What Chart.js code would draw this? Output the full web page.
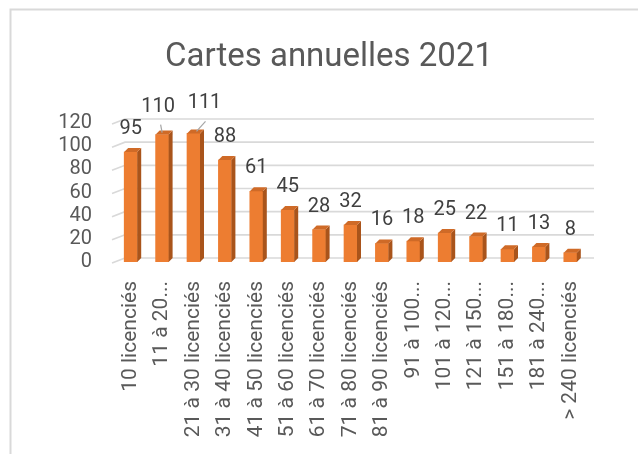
<!DOCTYPE html>
<html>
<head>
<meta charset="utf-8">
<script src="https://cdn.jsdelivr.net/npm/chart.js@4"></script>
<style>
  html, body { margin: 0; padding: 0; background: #ffffff; }
  #wrap { width: 638px; height: 454px; position: relative; }
</style>
</head>
<body>
<div id="wrap"><canvas id="c" width="638" height="454"></canvas></div>
<script>
const categories = ["10 licenciés", "11 à 20...", "21 à 30 licenciés", "31 à 40 licenciés", "41 à 50 licenciés",
  "51 à 60 licenciés", "61 à 70 licenciés", "71 à 80 licenciés", "81 à 90 licenciés", "91 à 100...",
  "101 à 120...", "121 à 150...", "151 à 180...", "181 à 240...", "> 240 licenciés"];
const values = [95, 110, 111, 88, 61, 45, 28, 32, 16, 18, 25, 22, 11, 13, 8];
const yTicks = [0, 20, 40, 60, 80, 100, 120];
const titleText = "Cartes annuelles 2021";

const FONT = "Roboto, 'Noto Sans', sans-serif";

// frame + background
const framePlugin = {
  id: 'frame',
  beforeDraw(chart) {
    const ctx = chart.ctx;
    ctx.save();
    ctx.fillStyle = '#ffffff';
    ctx.fillRect(0, 0, chart.width, chart.height);
    ctx.strokeStyle = '#d9d9d9';
    ctx.lineWidth = 2;
    ctx.beginPath();
    ctx.moveTo(10.5, chart.height);
    ctx.lineTo(10.5, 9.5);
    ctx.lineTo(chart.width, 9.5);
    ctx.stroke();
    ctx.restore();
  }
};

// chart title
const titlePlugin = {
  id: 'ctitle',
  afterDraw(chart) {
    const ctx = chart.ctx;
    ctx.save();
    ctx.font = '33px ' + FONT;
    ctx.fillStyle = '#595959';
    ctx.textAlign = 'center';
    ctx.textBaseline = 'alphabetic';
    ctx.fillText(titleText, 329, 66);
    ctx.restore();
  }
};

// 3D-like gridlines (back wall + floor edge)
const gridPlugin = {
  id: 'grid3d',
  beforeDatasetsDraw(chart) {
    const ctx = chart.ctx;
    const ys = chart.scales.y;
    const a = chart.chartArea;
    ctx.save();
    ctx.strokeStyle = '#d9d9d9';
    ctx.lineWidth = 1.6;
    yTicks.forEach(v => {
      const y = ys.getPixelForValue(v);
      ctx.beginPath();
      ctx.moveTo(a.left - 3, y + 1);
      ctx.lineTo(a.left + 10, y - 4);
      ctx.lineTo(a.right + 8, y - 4);
      ctx.stroke();
    });
    ctx.restore();
  }
};

// side and top faces of the bars
const bar3dPlugin = {
  id: 'bar3d',
  afterDatasetsDraw(chart) {
    const ctx = chart.ctx;
    const meta = chart.getDatasetMeta(0);
    const dx = 4, dy = 4;
    ctx.save();
    meta.data.forEach(el => {
      const p = el.getProps(['x', 'y', 'base', 'width'], true);
      const l = p.x - p.width / 2, r = p.x + p.width / 2;
      ctx.fillStyle = '#a9541b';
      ctx.beginPath();
      ctx.moveTo(r, p.y);
      ctx.lineTo(r + dx, p.y - dy);
      ctx.lineTo(r + dx, p.base - dy);
      ctx.lineTo(r, p.base);
      ctx.closePath();
      ctx.fill();
      ctx.fillStyle = '#cf6a27';
      ctx.beginPath();
      ctx.moveTo(l, p.y);
      ctx.lineTo(l + dx, p.y - dy);
      ctx.lineTo(r + dx, p.y - dy);
      ctx.lineTo(r, p.y);
      ctx.closePath();
      ctx.fill();
    });
    ctx.restore();
  }
};

// data labels
const labelOffsets = { 1: [-4, -5, true], 2: [11, -7, true] };
const dataLabelPlugin = {
  id: 'dlabels',
  afterDatasetsDraw(chart) {
    const ctx = chart.ctx;
    const meta = chart.getDatasetMeta(0);
    ctx.save();
    ctx.font = '20px ' + FONT;
    ctx.fillStyle = '#404040';
    ctx.textAlign = 'center';
    ctx.textBaseline = 'middle';
    meta.data.forEach((el, i) => {
      const p = el.getProps(['x', 'y'], true);
      const off = labelOffsets[i] || [0, 0, false];
      const lx = p.x + off[0], ly = p.y - 23 + off[1];
      ctx.fillText(String(values[i]), lx, ly);
      if (off[2]) {
        ctx.strokeStyle = '#a6a6a6';
        ctx.lineWidth = 1.2;
        ctx.beginPath();
        ctx.moveTo(lx + (off[0] < 0 ? 2.5 : 1), ly + 18);
        ctx.lineTo(p.x + (off[0] < 0 ? 0 : 3), p.y - 2);
        ctx.stroke();
      }
    });
    ctx.restore();
  }
};

new Chart(document.getElementById('c'), {
  type: 'bar',
  data: {
    labels: categories,
    datasets: [{
      data: values,
      backgroundColor: '#ed7d31',
      borderWidth: 0,
      barThickness: 13
    }]
  },
  options: {
    responsive: false,
    animation: false,
    devicePixelRatio: 1,
    layout: { padding: { left: 20, right: 52, top: 123, bottom: 0 } },
    plugins: {
      legend: { display: false },
      tooltip: { enabled: false },
      title: { display: false }
    },
    scales: {
      x: {
        grid: { display: false, drawTicks: false },
        border: { display: false },
        ticks: {
          color: '#595959',
          font: { family: FONT, size: 21 },
          minRotation: 90,
          maxRotation: 90,
          autoSkip: false,
          padding: 19
        },
        afterFit(scale) { scale.height = 192; }
      },
      y: {
        min: 0,
        max: 120,
        grid: { display: false, drawTicks: false },
        border: { display: false },
        ticks: {
          stepSize: 20,
          autoSkip: false,
          color: '#595959',
          font: { family: FONT, size: 20 },
          padding: 23
        },
        afterFit(scale) { scale.width = 95; }
      }
    }
  },
  plugins: [framePlugin, gridPlugin, bar3dPlugin, dataLabelPlugin, titlePlugin]
});
</script>
</body>
</html>
